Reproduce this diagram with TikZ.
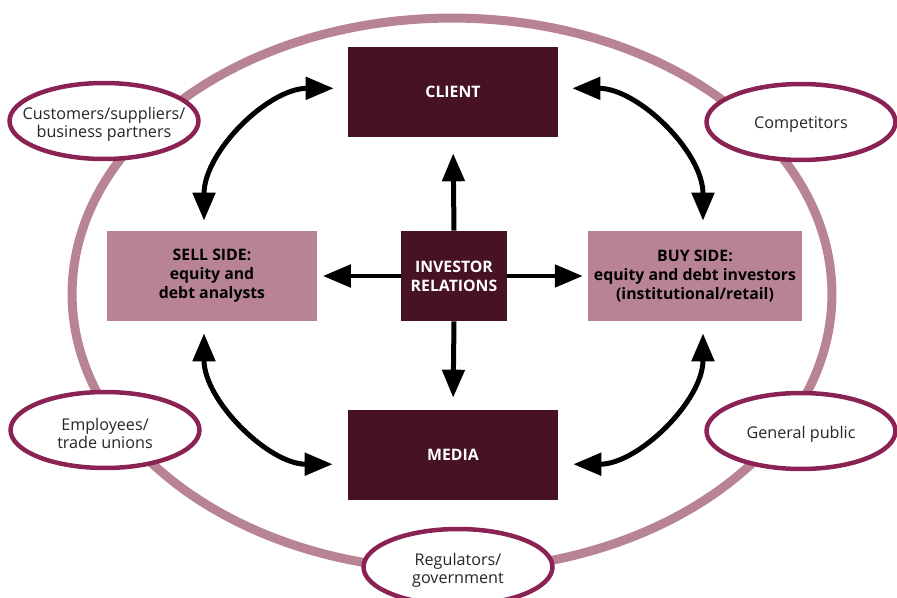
\documentclass[tikz,border=0pt]{standalone}
\usepackage{fontspec}
\setmainfont{Open Sans}
\usetikzlibrary{arrows.meta,shapes.geometric}
\definecolor{irdark}{RGB}{70,18,36}
\definecolor{irmauve}{RGB}{184,132,148}
\definecolor{irrim}{RGB}{138,34,84}

\begin{document}
\begin{tikzpicture}[x=0.02cm,y=-0.02cm,>={Triangle[length=0.56cm,width=0.44cm]},font=\fontsize{9.2}{10.2}\selectfont]
\tikzstyle{dk}=[fill=irdark,text=white,align=center,font=\fontsize{9}{10.8}\selectfont\bfseries,minimum height=1.8cm]
\tikzstyle{lt}=[fill=irmauve,align=center,font=\fontsize{9}{10.8}\selectfont\bfseries,minimum width=4.22cm,minimum height=1.8cm]
\tikzstyle{grp}=[ellipse,draw=irrim,line width=0.09cm,fill=white,minimum width=3.78cm,minimum height=1.52cm]
\tikzstyle{gtxt}=[align=center,text=black!85,yshift=-0.06cm]
\tikzstyle{link}=[<->,line width=0.1cm]
\useasboundingbox (0,0) rectangle (897,598);
\clip (0,0) rectangle (897,598);
% outer ring
\draw[irmauve,line width=0.18cm] (452,294) ellipse [x radius=7.6cm,y radius=5.52cm];
% stakeholder groups on the ring
\node[grp] (cust) at (104,121) {};  \node[gtxt] (custt) at (cust) {Customers/suppliers/\\business partners};
\node[grp] (comp) at (801,122) {};  \node[gtxt] (compt) at (comp) {Competitors};
\node[grp] (empl) at (105,430) {};  \node[gtxt] (emplt) at (empl) {Employees/\\trade unions};
\node[grp] (publ) at (801,431) {};  \node[gtxt] (publt) at (publ) {General public};
\node[grp] (regu) at (458,567) {};  \node[gtxt] (regut) at (regu) {Regulators/\\government};
% boxes
\node[dk,minimum width=4.2cm] (client) at (453,92) {CLIENT};
\node[dk,minimum width=4.2cm] (media) at (453,455) {MEDIA};
\node[dk,minimum width=2.12cm] (ir) at (454,276) {INVESTOR\\RELATIONS};
\node[lt] (sell) at (212,276) {SELL SIDE:\\equity and\\debt analysts};
\node[lt] (buy) at (695,276) {BUY SIDE:\\equity and debt investors\\(institutional/retail)};
% straight arrows from IR
\draw[->,line width=0.1cm,shorten >=0.32cm] (ir.north) -- (client.south);
\draw[->,line width=0.1cm,shorten >=0.24cm] (ir.south) -- (media.north);
\draw[->,line width=0.1cm,shorten >=0.1cm] (ir.west) -- (sell.east);
\draw[->,line width=0.1cm,shorten >=0.1cm] (ir.east) -- (buy.west);
% curved two-way arrows
\draw[link,shorten <=0.2cm,shorten >=0.28cm] (sell.100) to[out=90,in=180] (client.178);
\draw[link,shorten <=0.2cm,shorten >=0.28cm] (buy.80) to[out=90,in=0] (client.2);
\draw[link,shorten <=0.24cm,shorten >=0.3cm] (sell.260) to[out=270,in=180] (media.185);
\draw[link,shorten <=0.24cm,shorten >=0.3cm] (buy.280) to[out=270,in=0] (media.355);
\end{tikzpicture}
\end{document}
